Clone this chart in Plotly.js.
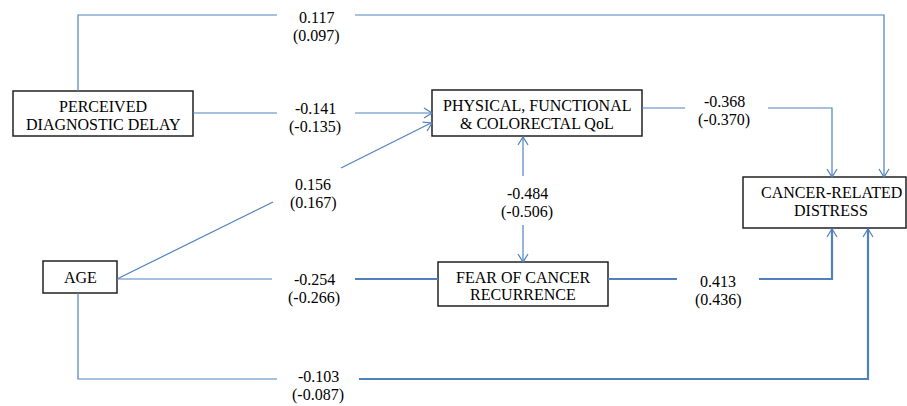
<!DOCTYPE html>
<html><head><meta charset="utf-8">
<script src="https://cdn.plot.ly/plotly-3.0.1.min.js"></script>
<style>html,body{margin:0;padding:0;background:#fff}#chart{width:907px;height:406px}</style>
</head><body><div id="chart"></div>
<script>
// ---- Data: node labels and path coefficients ----
const nodeLabels = [
  ["PERCEIVED", "DIAGNOSTIC DELAY"],
  ["PHYSICAL, FUNCTIONAL", "& COLORECTAL QoL"],
  ["CANCER-RELATED", "DISTRESS"],
  ["AGE"],
  ["FEAR OF CANCER", "RECURRENCE"]
];
const pathNames = ["PDD-CRD", "PDD-QoL", "QoL-CRD", "AGE-QoL", "QoL-FCR", "AGE-FCR", "FCR-CRD", "AGE-CRD"];
const coefMain = ["0.117", "-0.141", "-0.368", "0.156", "-0.484", "-0.254", "0.413", "-0.103"];
const coefParen = ["(0.097)", "(-0.135)", "(-0.370)", "(0.167)", "(-0.506)", "(-0.266)", "(0.436)", "(-0.087)"];

// ---- Geometry (layout only) ----
const boxes = [[13, 91, 193, 136], [432, 90, 642, 136], [743, 177, 906, 228], [43, 261, 117, 293], [438, 262, 608, 306]];
const boxText = [[103, [106, 124]], [537, [105, 123]], [831, [192, 210]], [80, [277]], [523, [277, 294]]];
const labelPos = [[316, 17], [315, 108], [724, 101], [313, 184], [527, 193], [314, 279], [718, 281], [318, 376]];
const LINE_GAP = 19;
// segments per path: list of polylines; thick flag; arrows [tipX, tipY, dirX, dirY]
const paths = [
  {segs: [[[78, 91], [78, 15], [277, 15]], [[355, 15], [884, 15], [884, 176]]], w: [1.2, 1.2], arrows: [[884, 177, 0, 1]]},
  {segs: [[[193, 113], [277, 113]], [[355, 113], [431, 113]]], w: [1.2, 1.2], arrows: [[432, 113, 1, 0]]},
  {segs: [[[642, 108], [685, 108]], [[768, 108], [832, 108], [832, 176]]], w: [1.2, 1.2], arrows: [[832, 177, 0, 1]]},
  {segs: [[[117, 279], [273, 202]], [[341, 168], [431, 123]]], w: [1.2, 1.2], arrows: [[432, 123, 315, -156]]},
  {segs: [[[523, 137], [523, 176]], [[523, 225], [523, 261]]], w: [1.2, 1.2], arrows: [[523, 137, 0, -1], [523, 262, 0, 1]]},
  {segs: [[[117, 279], [272, 279]], [[355, 279], [438, 279]]], w: [1.2, 2.2], arrows: []},
  {segs: [[[608, 279], [677, 279]], [[759, 279], [832, 279], [832, 229]]], w: [2.2, 2.2], arrows: [[832, 229, 0, -1]]},
  {segs: [[[78, 293], [78, 379], [277, 379]], [[359, 379], [868, 379], [868, 229]]], w: [1.2, 2.2], arrows: [[868, 229, 0, -1]]}
];

const BLUE = '#4f81bd';
const FONT = {family: 'Liberation Serif, Times New Roman, serif', size: 16, color: '#000'};
const traces = [];
paths.forEach((p, i) => {
  p.segs.forEach((s, j) => {
    traces.push({x: s.map(q => q[0]), y: s.map(q => q[1]), mode: 'lines', type: 'scatter',
      line: {color: BLUE, width: p.w[j]}, hoverinfo: 'skip', showlegend: false, name: pathNames[i]});
  });
  p.arrows.forEach(a => {
    const len = Math.hypot(a[2], a[3]); const dx = a[2] / len, dy = a[3] / len;
    const nx = -dy, ny = dx; const L = 8, W = 5;
    traces.push({x: [a[0] - L * dx + W * nx, a[0], a[0] - L * dx - W * nx],
      y: [a[1] - L * dy + W * ny, a[1], a[1] - L * dy - W * ny], mode: 'lines', type: 'scatter',
      line: {color: BLUE, width: 1.2}, hoverinfo: 'skip', showlegend: false});
  });
});

const shapes = boxes.map(b => ({type: 'rect', xref: 'x', yref: 'y', x0: b[0], y0: b[1], x1: b[2], y1: b[3],
  line: {color: '#222', width: 1.5}, fillcolor: '#fff', layer: 'below'}));

const annotations = [];
nodeLabels.forEach((lines, i) => {
  lines.forEach((t, k) => annotations.push({x: boxText[i][0], y: boxText[i][1][k], xref: 'x', yref: 'y',
    text: t, showarrow: false, font: FONT, xanchor: 'center', yanchor: 'middle'}));
});
coefMain.forEach((t, i) => {
  annotations.push({x: labelPos[i][0], y: labelPos[i][1], xref: 'x', yref: 'y', text: t, showarrow: false, font: FONT, xanchor: 'center', yanchor: 'middle'});
  annotations.push({x: labelPos[i][0], y: labelPos[i][1] + LINE_GAP, xref: 'x', yref: 'y', text: coefParen[i], showarrow: false, font: FONT, xanchor: 'center', yanchor: 'middle'});
});

const layout = {
  width: 907, height: 406, margin: {l: 0, r: 0, t: 0, b: 0},
  paper_bgcolor: '#fff', plot_bgcolor: '#fff', showlegend: false,
  xaxis: {range: [0, 907], visible: false, fixedrange: true},
  yaxis: {range: [406, 0], visible: false, fixedrange: true},
  shapes: shapes, annotations: annotations
};
Plotly.newPlot('chart', traces, layout, {staticPlot: true, displayModeBar: false});
</script>
</body></html>
